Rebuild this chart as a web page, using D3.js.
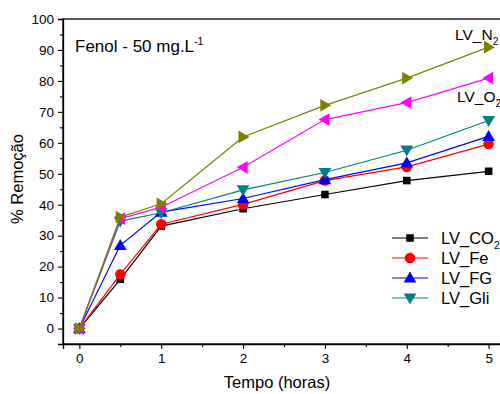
<!DOCTYPE html>
<html>
<head>
<meta charset="utf-8">
<script src="https://cdn.jsdelivr.net/npm/d3@7"></script>
<style>
  body { margin: 0; background: #fff; overflow: hidden; }
  svg { display: block; font-family: "Liberation Sans", Arial, sans-serif; }
</style>
</head>
<body>
<div id="chart"></div>
<script>
// hours
const times = [0, 0.5, 1, 2, 3, 4, 5];

// % removal per series
const lvCO2 = [0, 15.9, 33.1, 38.7, 43.3, 47.8, 50.8];
const lvFe  = [0, 17.5, 33.7, 40.1, 47.8, 52.2, 59.6];
const lvFG  = [0, 26.9, 37.6, 42.0, 48.1, 53.5, 62.1];
const lvGli = [0, 34.7, 37.4, 44.8, 50.4, 57.6, 67.2];
const lvO2  = [0, 35.5, 39.2, 52.1, 67.5, 73.0, 80.9];
const lvN2  = [0, 36.0, 40.3, 61.9, 72.1, 80.9, 90.9];

const xTicks = [0, 1, 2, 3, 4, 5];
const yTicks = [0, 10, 20, 30, 40, 50, 60, 70, 80, 90, 100];

const series = [
  { name: 'CO', sub: '2', values: lvCO2, color: '#000000', symbol: 'square', legend: true },
  { name: 'Fe', sub: '', values: lvFe, color: '#ff0000', symbol: 'circle', legend: true },
  { name: 'FG', sub: '', values: lvFG, color: '#0000ff', symbol: 'up', legend: true },
  { name: 'Gli', sub: '', values: lvGli, color: '#008080', symbol: 'down', legend: true },
  { name: 'O', sub: '2', values: lvO2, color: '#ff00ff', symbol: 'left', legend: false },
  { name: 'N', sub: '2', values: lvN2, color: '#808000', symbol: 'right', legend: false }
];

const width = 500, height = 394;
const margin = { left: 63, top: 19, right: -5, bottom: 50 };

const svg = d3.select('#chart').append('svg')
  .attr('width', width)
  .attr('height', height);

const x = d3.scaleLinear().domain([-0.2, 5.2]).range([margin.left, width - margin.right]);
const y = d3.scaleLinear().domain([-5, 100]).range([height - margin.bottom, margin.top]);

// frame
svg.append('rect')
  .attr('x', x(-0.2)).attr('y', y(100))
  .attr('width', x(5.2) - x(-0.2)).attr('height', y(-5) - y(100))
  .attr('fill', 'none').attr('stroke', '#000').attr('stroke-width', 1.3);

// axes
svg.append('g')
  .attr('transform', `translate(0,${y(-5)})`)
  .call(d3.axisBottom(x).tickValues(xTicks).tickFormat(d3.format('d')).tickSize(5).tickPadding(4));
svg.append('g')
  .attr('transform', `translate(0,${y(-5)})`)
  .call(d3.axisBottom(x).tickValues([0.5, 1.5, 2.5, 3.5, 4.5]).tickFormat('').tickSize(3))
  .call(g => g.select('.domain').remove());

svg.append('g')
  .attr('transform', `translate(${x(-0.2)},0)`)
  .call(d3.axisLeft(y).tickValues(yTicks).tickSize(5).tickPadding(4));
svg.append('g')
  .attr('transform', `translate(${x(-0.2)},0)`)
  .call(d3.axisLeft(y).tickValues(d3.range(5, 100, 10)).tickFormat('').tickSize(3))
  .call(g => g.select('.domain').remove());

svg.selectAll('.domain').attr('stroke-width', 1.3);
svg.selectAll('.tick line').attr('stroke-width', 1.1);
svg.selectAll('.tick text')
  .attr('font-family', '"Liberation Sans", Arial, sans-serif')
  .attr('font-size', 13.5)
  .attr('fill', '#000');

// axis titles
svg.append('text')
  .attr('x', 277).attr('y', 388)
  .attr('text-anchor', 'middle')
  .attr('font-size', 16.5)
  .text('Tempo (horas)');

svg.append('text')
  .attr('transform', `translate(23,179) rotate(-90)`)
  .attr('text-anchor', 'middle')
  .attr('font-size', 16.5)
  .text('% Remoção');

// symbols
const symbolPath = (type, size) => {
  const s = size;
  switch (type) {
    case 'square': return `M${-s * 0.42},${-s * 0.42}h${s * 0.84}v${s * 0.84}h${-s * 0.84}Z`;
    case 'circle': return d3.symbol(d3.symbolCircle, s * s * 0.72)();
    case 'up': return `M0,${-s * 0.58}L${s * 0.58},${s * 0.42}L${-s * 0.58},${s * 0.42}Z`;
    case 'down': return `M0,${s * 0.58}L${s * 0.58},${-s * 0.42}L${-s * 0.58},${-s * 0.42}Z`;
    case 'left': return `M${-s * 0.58},0L${s * 0.42},${-s * 0.58}L${s * 0.42},${s * 0.58}Z`;
    case 'right': return `M${s * 0.58},0L${-s * 0.42},${-s * 0.58}L${-s * 0.42},${s * 0.58}Z`;
  }
};

const line = d3.line().x(d => x(d[0])).y(d => y(d[1]));

series.forEach(s => {
  const pts = times.map((t, i) => [t, s.values[i]]);
  const g = svg.append('g');
  g.append('path')
    .attr('d', line(pts))
    .attr('fill', 'none')
    .attr('stroke', s.color)
    .attr('stroke-width', 1.2);
  g.selectAll('path.pt')
    .data(pts)
    .join('path')
    .attr('class', 'pt')
    .attr('transform', d => `translate(${x(d[0])},${y(d[1])})`)
    .attr('d', symbolPath(s.symbol, s.symbol === 'square' ? 9 : 11))
    .attr('fill', s.color);
});

// title
const title = svg.append('text')
  .attr('x', 75).attr('y', 52)
  .attr('font-size', 17);
title.append('tspan').text('Fenol - 50 mg.L');
title.append('tspan').attr('dy', -7).attr('font-size', 10.5).text('-1');

// in-plot series labels (run off the right edge, as in the original)
const labelSeries = (s, lx, ly) => {
  const t = svg.append('text').attr('x', lx).attr('y', ly).attr('font-size', 15.5);
  t.append('tspan').text('LV_' + s.name);
  t.append('tspan').attr('dy', 5).attr('font-size', 10).text(s.sub);
};
labelSeries(series[5], 455, 40);
labelSeries(series[4], 457, 102);

// legend
const legend = svg.append('g').attr('transform', 'translate(392,238)');
series.filter(s => s.legend).forEach((s, i) => {
  const g = legend.append('g').attr('transform', `translate(0,${i * 20})`);
  g.append('line')
    .attr('x1', 0).attr('x2', 36)
    .attr('stroke', s.color).attr('stroke-width', 1.2);
  g.append('path')
    .attr('transform', 'translate(18,0)')
    .attr('d', symbolPath(s.symbol, s.symbol === 'square' ? 9 : 11))
    .attr('fill', s.color);
  const t = g.append('text')
    .attr('x', 49).attr('y', 6)
    .attr('font-size', 16.5);
  t.append('tspan').text('LV_' + s.name);
  if (s.sub) t.append('tspan').attr('dy', 5).attr('font-size', 10.5).text(s.sub);
});
</script>
</body>
</html>
